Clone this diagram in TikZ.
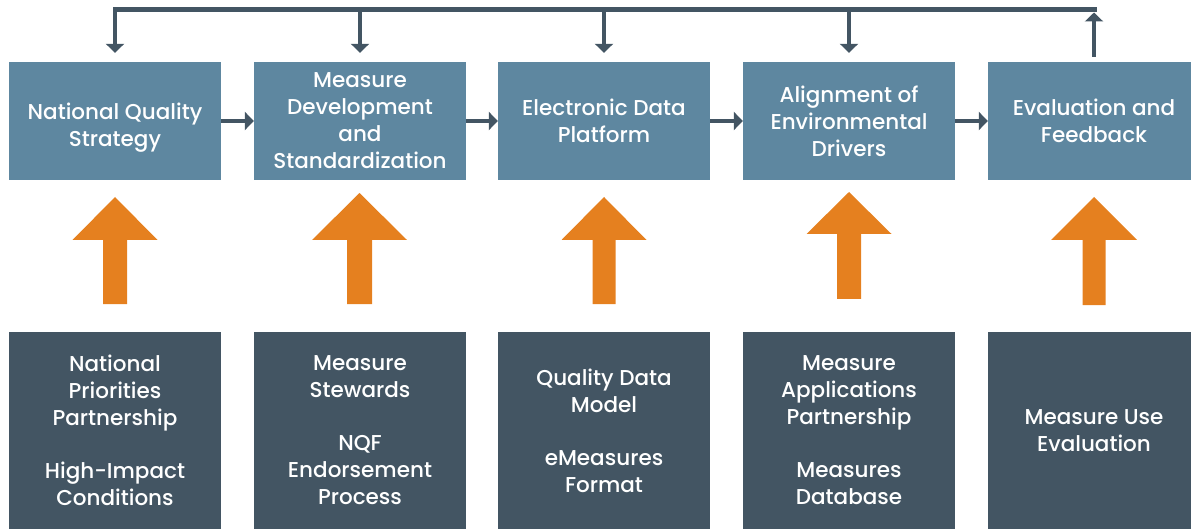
\documentclass[tikz,border=0pt]{standalone}
\usepackage{fontspec}
\setmainfont{Poppins}[UprightFont={* Medium}]
\usetikzlibrary{arrows.meta}
\definecolor{topblue}{HTML}{5E87A0}
\definecolor{darkslate}{HTML}{435563}
\definecolor{orng}{HTML}{E5801F}
\tikzset{
  txt/.style={font=\fontsize{21.5}{27}\selectfont, text=white, align=center, inner sep=0pt},
  topbox/.style={txt, fill=topblue, minimum width=212pt, minimum height=118pt},
  botbox/.style={txt, fill=darkslate, minimum width=212pt, minimum height=197pt},
  conn/.style={draw=darkslate, line width=3.5pt, -{Triangle[width=18pt,length=9pt]}},
  fbline/.style={draw=darkslate, line width=5pt, line cap=rect},
  bigarrow/.style={fill=orng}
}
\begin{document}
\begin{tikzpicture}[x=1pt,y=-1pt]
\useasboundingbox (0,0) rectangle (1191,529);
\clip (0,0) rectangle (1191,529);
% top boxes
\node[topbox] (t1) at (115,121) {};
\node[txt] (t1text) at ([yshift=-7pt]t1.center) {National Quality\\Strategy};
\node[topbox] (t2) at (360,121) {Measure\\Development\\and\\Standardization};
\node[topbox] (t3) at (604,121) {Electronic Data\\Platform};
\node[topbox] (t4) at (849,121) {Alignment of\\Environmental\\Drivers};
\node[topbox] (t5) at (1094,121) {Evaluation and\\Feedback};
% bottom boxes
\node[botbox] (b1) at (115,430.5) {National\\Priorities\\Partnership\\[26pt]High-Impact\\Conditions};
\node[botbox] (b2) at (360,430.5) {Measure\\Stewards\\[26pt]NQF\\Endorsement\\Process};
\node[botbox] (b3) at (604,430.5) {Quality Data\\Model\\[26pt]eMeasures\\Format};
\node[botbox] (b4) at (849,430.5) {Measure\\Applications\\Partnership\\[26pt]Measures\\Database};
\node[botbox] (b5) at (1094,430.5) {Measure Use\\Evaluation};
% horizontal connectors
\draw[conn] (t1.east) -- (t2.west);
\draw[conn] (t2.east) -- (t3.west);
\draw[conn] (t3.east) -- (t4.west);
\draw[conn] (t4.east) -- (t5.west);
% feedback loop
\coordinate (fbL) at (115,10);
\coordinate (fbR) at (1094,10);
\draw[fbline] (fbL) -- (fbR);
\draw[conn, shorten >=2.5pt] ([yshift=5pt]t5.north) -- (t5.north |- fbR);
\foreach \n in {t1,t2,t3,t4}
  \draw[conn] (\n.north |- fbL) -- ([yshift=9pt]\n.north);
% orange block arrows: x, tip, base, bottom, half head, half shaft
\foreach \x/\tp/\bs/\bt/\hw/\sw in {115/197/240/304/42.5/12, 359.5/193/240/304/47.5/12.5, 604/197/240/304/42.5/11.5, 849/192/234/299/42.5/12, 1094/197/240/305/43/11.5}
  \fill[bigarrow] (\x,\tp) -- (\x+\hw,\bs) -- (\x+\sw,\bs) -- (\x+\sw,\bt) -- (\x-\sw,\bt) -- (\x-\sw,\bs) -- (\x-\hw,\bs) -- cycle;
\end{tikzpicture}
\end{document}
